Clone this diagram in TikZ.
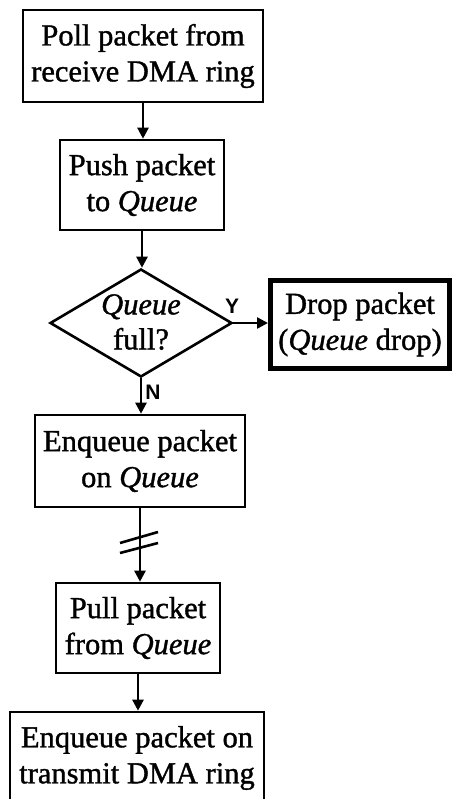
\documentclass[tikz,border=0pt]{standalone}
\usepackage{fontspec}
\setmainfont{Liberation Serif}[FakeBold=1.2,
  ItalicFeatures={FakeBold=1.2}]
\newfontfamily\labelfont{Liberation Sans}
\usetikzlibrary{shapes.geometric,arrows.meta}
\begin{document}
\begin{tikzpicture}[x=1pt,y=-1pt,
  every node/.style={inner sep=0pt},
  stepbox/.style={draw, line width=2.6pt, rectangle, align=center,
    font=\fontsize{30.5}{36}\selectfont},
  flow/.style={line width=2.4pt, -{Triangle[length=11pt,width=11pt]}},
  yn/.style={font=\labelfont\bfseries\fontsize{21}{21}\selectfont}]
\useasboundingbox (0,0) rectangle (452,799);
\clip (0,0) rectangle (452,799);

\node[stepbox, minimum width=240, minimum height=92] (poll) at (143,56)
  {Poll packet from\\receive DMA ring};
\node[stepbox, minimum width=164, minimum height=90] (push) at (142,185)
  {Push packet\\to \textit{Queue}};
\node[diamond, draw, line width=2.6pt, minimum width=182, minimum height=108,
  inner sep=0pt] (full) at (141,323) {};
\node[align=center, font=\fontsize{30.5}{35}\selectfont] (fulltxt) at (141,322)
  {\textit{Queue}\\full?};
\node[stepbox, line width=5pt, minimum width=179, minimum height=88] (drop) at (360,324.5)
  {Drop packet\\(\textit{Queue} drop)};
\node[stepbox, minimum width=210, minimum height=92] (enq) at (140,461)
  {Enqueue packet\\on \textit{Queue}};
\node[stepbox, minimum width=164, minimum height=90] (pull) at (138,628)
  {Pull packet\\from \textit{Queue}};
\node[stepbox, minimum width=254, minimum height=92] (tx) at (137,758)
  {Enqueue packet on\\transmit DMA ring};

\draw[flow] (poll.south) -- (poll.south |- push.north);
\draw[flow] (push.south) -- (push.south |- full.north);
\draw[flow] (full.east) -- (full.east -| drop.west);
\draw[flow] (full.south) -- (full.south |- enq.north);
\draw[flow] (enq.south) -- (enq.south |- pull.north);
\draw[flow] (pull.south) -- (pull.south |- tx.north);

% break marks on the enqueue-to-pull connector
\draw[line width=2.6pt] (120,543) -- (158,532);
\draw[line width=2.6pt] (120,553) -- (158,543);

\node[yn] (ylab) at (232,306) {Y};
\node[yn] (nlab) at (153,392) {N};
\end{tikzpicture}
\end{document}
